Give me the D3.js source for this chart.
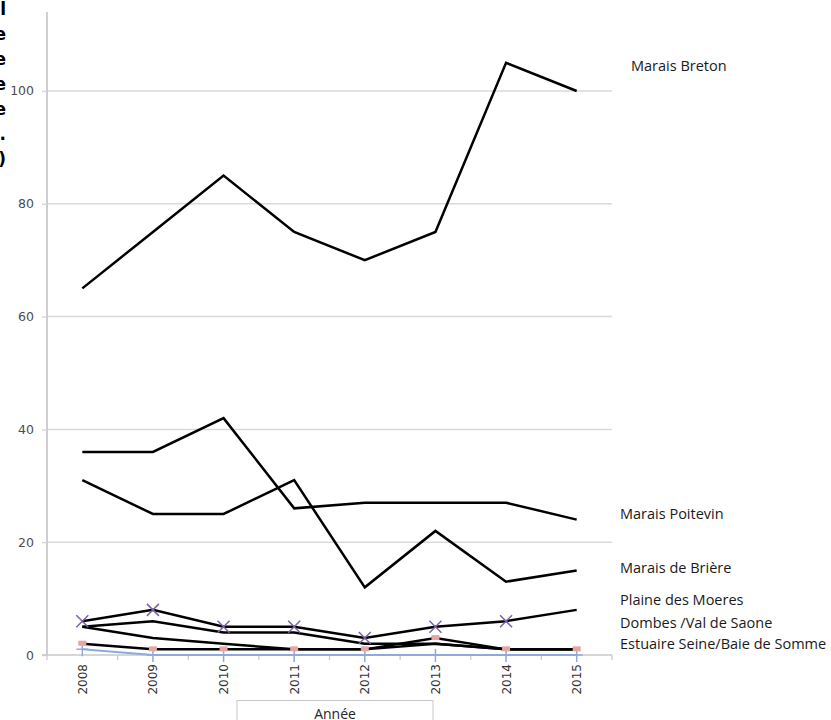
<!DOCTYPE html>
<html>
<head>
<meta charset="utf-8">
<script src="https://cdn.jsdelivr.net/npm/d3@7"></script>
<style>
  body { margin: 0; background: #fff; }
  svg { display: block; }
</style>
</head>
<body>
<script>
// values
const years = ["2008", "2009", "2010", "2011", "2012", "2013", "2014", "2015"];
const maraisBreton = [65, 75, 85, 75, 70, 75, 105, 100];
const maraisPoitevin = [36, 36, 42, 26, 27, 27, 27, 24];
const maraisBriere = [31, 25, 25, 31, 12, 22, 13, 15];
const plaineMoeres = [6, 8, 5, 5, 3, 5, 6, 8];
const dombes = [5, 6, 4, 4, 2, 2, 1, 1];
const autreSite = [5, 3, 2, 1, 1, 2, 1, 1];
const estuaire = [2, 1, 1, 1, 1, 3, 1, 1];
const siteZero = [1, 0, 0, 0, 0, 0, 0, 0];
const yTicks = [0, 20, 40, 60, 80, 100];

// end labels (name, value level where the text sits)
const labelNames = ["Marais Breton", "Marais Poitevin", "Marais de Brière",
  "Plaine des Moeres", "Dombes /Val de Saone", "Estuaire Seine/Baie de Somme"];
const labelLevels = [104.4, 25, 15.4, 9.8, 5.7, 2];

const width = 831, height = 720;
const plotLeft = 47, plotRight = 612, plotTop = 12, plotBottom = 655;

const svg = d3.select("body").append("svg")
  .attr("width", width)
  .attr("height", height);

const x = d3.scaleBand().domain(years).range([plotLeft, plotRight]);
const y = d3.scaleLinear().domain([0, 114]).range([plotBottom, plotTop]);
const cx = d => x(d) + x.bandwidth() / 2;

// gridlines
svg.append("g")
  .selectAll("line")
  .data(yTicks.filter(d => d > 0))
  .join("line")
    .attr("x1", plotLeft).attr("x2", plotRight)
    .attr("y1", d => y(d)).attr("y2", d => y(d))
    .attr("stroke", "#d9d9d9")
    .attr("stroke-width", 1.5);

// y axis
const yAxis = svg.append("g")
  .attr("transform", `translate(${plotLeft},0)`)
  .call(d3.axisLeft(y).tickValues(yTicks).tickSize(5).tickPadding(8));
yAxis.select(".domain").attr("stroke", "#bfbfbf").attr("stroke-width", 1.5)
  .attr("d", `M0,${plotBottom}V${plotTop}`);
yAxis.selectAll(".tick line").attr("stroke", "#d9d9d9").attr("stroke-width", 1.5);
yAxis.selectAll(".tick text")
  .attr("fill", "#4d4d4d")
  .style("font-family", "DejaVu Sans")
  .style("font-size", "12.5px");

// x axis
svg.append("line")
  .attr("x1", plotLeft - 5).attr("x2", plotRight)
  .attr("y1", plotBottom).attr("y2", plotBottom)
  .attr("stroke", "#c8c8c8").attr("stroke-width", 1.5);
svg.append("g")
  .selectAll("line")
  .data(years.concat(["end"]))
  .join("line")
    .attr("x1", (d, i) => plotLeft + i * x.bandwidth())
    .attr("x2", (d, i) => plotLeft + i * x.bandwidth())
    .attr("y1", plotBottom).attr("y2", plotBottom + 5)
    .attr("stroke", "#c8c8c8").attr("stroke-width", 1.2);

svg.append("g")
  .selectAll("text")
  .data(years)
  .join("text")
    .attr("transform", d => `translate(${cx(d) + 4.5},${plotBottom + 9}) rotate(-90)`)
    .attr("text-anchor", "end")
    .attr("fill", "#333")
    .style("font-family", "DejaVu Sans")
    .style("font-size", "12px")
    .text(d => d);

// x axis title box
svg.append("rect")
  .attr("x", 237).attr("y", 700.5)
  .attr("width", 196).attr("height", 30)
  .attr("fill", "#fff")
  .attr("stroke", "#c8c8c8");
svg.append("text")
  .attr("x", 335).attr("y", 719)
  .attr("text-anchor", "middle")
  .attr("fill", "#262626")
  .style("font-family", "Open Sans")
  .style("font-size", "14px")
  .text("Année");

// y title, mostly cut off at the left edge (stacked letters)
svg.append("g")
  .selectAll("text")
  .data(["l", "e", "e", "e", "e", ".", ")"])
  .join("text")
    .attr("x", 6)
    .attr("y", (d, i) => 15 + i * 25)
    .attr("text-anchor", "end")
    .attr("fill", "#000")
    .style("font-family", "DejaVu Sans")
    .style("font-weight", "bold")
    .style("font-size", "17px")
    .text(d => d);

// series
const series = [
  {values: siteZero, color: "#8eaadb", width: 2, marker: "plus"},
  {values: maraisBreton, color: "#000", width: 2.5},
  {values: maraisPoitevin, color: "#000", width: 2.5},
  {values: maraisBriere, color: "#000", width: 2.5},
  {values: autreSite, color: "#000", width: 2.5},
  {values: dombes, color: "#000", width: 2.5},
  {values: estuaire, color: "#000", width: 2.5, marker: "square"},
  {values: plaineMoeres, color: "#000", width: 2.5, marker: "cross"}
];

const line = d3.line()
  .x((d, i) => cx(years[i]))
  .y(d => y(d));

series.forEach(s => {
  svg.append("path")
    .datum(s.values)
    .attr("fill", "none")
    .attr("stroke", s.color)
    .attr("stroke-width", s.width)
    .attr("stroke-linejoin", "miter")
    .attr("d", line);
});

series.forEach(s => {
  if (!s.marker) return;
  const g = svg.append("g");
  const pts = g.selectAll("g")
    .data(s.values)
    .join("g")
      .attr("transform", (d, i) => `translate(${cx(years[i])},${y(d)})`);
  if (s.marker === "plus") {
    pts.append("path")
      .attr("d", "M-6,0H6M0,-6V7")
      .attr("stroke", "#8eaadb")
      .attr("stroke-width", 1.5);
  } else if (s.marker === "square") {
    pts.append("rect")
      .attr("x", -4).attr("y", -3)
      .attr("width", 8).attr("height", 5)
      .attr("fill", "#e6a5a3");
  } else if (s.marker === "cross") {
    pts.filter((d, i) => i < years.length - 1)
      .append("path")
      .attr("d", "M-6,-6L6,6M-6,6L6,-6")
      .attr("stroke", "#7a62a3")
      .attr("stroke-width", 1.5);
  }
});

// end labels
svg.append("g")
  .selectAll("text")
  .data(labelNames)
  .join("text")
    .attr("x", (d, i) => i === 0 ? 631 : 620)
    .attr("y", (d, i) => y(labelLevels[i]))
    .attr("dy", "0.35em")
    .attr("fill", "#1a1a1a")
    .style("font-family", "Open Sans")
    .style("font-size", "14.5px")
    .text(d => d);
</script>
</body>
</html>
